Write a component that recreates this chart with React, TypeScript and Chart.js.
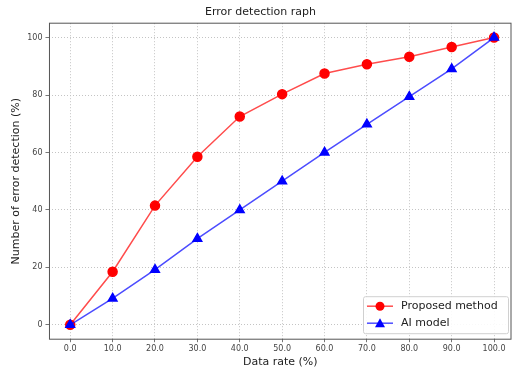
import React, { useEffect, useRef } from "react";
import { Chart, registerables } from "chart.js";

Chart.register(...registerables);

const dataRate = [0, 10, 20, 30, 40, 50, 60, 70, 80, 90, 100];
const proposedMethod = [0, 18.5, 41.5, 58.5, 72.5, 80.3, 87.5, 90.7, 93.3, 96.7, 100];
const aiModel = [0, 9.2, 19.2, 30, 40, 50, 60, 69.8, 79.4, 89.1, 100];
const xTicks = [0, 10, 20, 30, 40, 50, 60, 70, 80, 90, 100];
const yTicks = [0, 20, 40, 60, 80, 100];
const seriesNames = ["Proposed method", "AI model"];

const FONT = "'DejaVu Sans', sans-serif";

const framePlugin = {
  id: "frame",
  afterDatasetsDraw(chart: any) {
    const { ctx, chartArea } = chart;
    ctx.save();
    ctx.strokeStyle = "#555";
    ctx.lineWidth = 1;
    ctx.strokeRect(chartArea.left, chartArea.top, chartArea.right - chartArea.left, chartArea.bottom - chartArea.top);
    ctx.restore();
  },
};

const legendPlugin = {
  id: "insideLegend",
  afterDraw(chart: any) {
    const { ctx, chartArea } = chart;
    const w = 145;
    const h = 37;
    const x = chartArea.right - w - 3;
    const y = chartArea.bottom - h - 6;
    ctx.save();
    ctx.fillStyle = "rgba(255,255,255,0.9)";
    ctx.strokeStyle = "#d0d0d0";
    ctx.lineWidth = 1;
    ctx.beginPath();
    if (ctx.roundRect) ctx.roundRect(x + 0.5, y + 0.5, w, h, 2);
    else ctx.rect(x + 0.5, y + 0.5, w, h);
    ctx.fill();
    ctx.stroke();
    const items = [
      { name: seriesNames[0], line: "rgba(255,0,0,0.7)", fill: "#ff0000", shape: "circle" },
      { name: seriesNames[1], line: "rgba(0,0,255,0.7)", fill: "#0000ff", shape: "triangle" },
    ];
    items.forEach((it, i) => {
      const cy = y + 10 + i * 17;
      const lx = x + 4;
      ctx.strokeStyle = it.line;
      ctx.lineWidth = 1.5;
      ctx.beginPath();
      ctx.moveTo(lx, cy);
      ctx.lineTo(lx + 26, cy);
      ctx.stroke();
      ctx.fillStyle = it.fill;
      ctx.beginPath();
      if (it.shape === "circle") {
        ctx.arc(lx + 13, cy, 4.5, 0, Math.PI * 2);
      } else {
        ctx.moveTo(lx + 13, cy - 5);
        ctx.lineTo(lx + 18, cy + 4);
        ctx.lineTo(lx + 8, cy + 4);
        ctx.closePath();
      }
      ctx.fill();
      ctx.fillStyle = "#222";
      ctx.font = `11px ${FONT}`;
      ctx.textBaseline = "middle";
      ctx.textAlign = "left";
      ctx.fillText(it.name, lx + 34, cy);
    });
    ctx.restore();
  },
};

export default function App() {
  const ref = useRef<HTMLCanvasElement>(null);
  useEffect(() => {
    if (!ref.current) return;
    const chart = new Chart(ref.current, {
      type: "line",
      data: {
        datasets: [
          {
            label: seriesNames[0],
            data: dataRate.map((x, i) => ({ x, y: proposedMethod[i] })),
            borderColor: "rgba(255,0,0,0.7)",
            backgroundColor: "#ff0000",
            pointBackgroundColor: "#ff0000",
            pointBorderColor: "#ff0000",
            pointStyle: "circle",
            pointRadius: 4.5,
            borderWidth: 1.5,
            order: 2,
          },
          {
            label: seriesNames[1],
            data: dataRate.map((x, i) => ({ x, y: aiModel[i] })),
            borderColor: "rgba(0,0,255,0.7)",
            backgroundColor: "#0000ff",
            pointBackgroundColor: "#0000ff",
            pointBorderColor: "#0000ff",
            pointStyle: "triangle",
            pointRadius: 5,
            borderWidth: 1.5,
            order: 1,
          },
        ],
      },
      options: {
        responsive: false,
        animation: false,
        events: [],
        layout: { padding: { left: 10, right: 10, top: 4, bottom: 0 } },
        plugins: {
          legend: { display: false },
          tooltip: { enabled: false },
          title: {
            display: true,
            text: "Error detection raph",
            color: "#222",
            font: { family: FONT, size: 11, weight: "normal" },
            padding: { top: 2, bottom: 4 },
          },
        },
        scales: {
          x: {
            type: "linear",
            min: -4.9,
            max: 104,
            afterBuildTicks: (axis: any) => {
              axis.ticks = xTicks.map((v) => ({ value: v }));
            },
            ticks: {
              color: "#444",
              font: { family: FONT, size: 8 },
              padding: 2,
              maxRotation: 0,
              callback: (v: any) => Number(v).toFixed(1),
            },
            grid: { color: "#c4c4c4", tickLength: 3, tickColor: "#777", tickBorderDash: [] } as any,
            border: { display: false, dash: [1, 2] },
            title: {
              display: true,
              text: "Data rate (%)",
              color: "#222",
              font: { family: FONT, size: 11 },
              padding: { top: 0, bottom: 0 },
            },
          },
          y: {
            type: "linear",
            min: -5,
            max: 105,
            afterBuildTicks: (axis: any) => {
              axis.ticks = yTicks.map((v) => ({ value: v }));
            },
            ticks: {
              color: "#444",
              font: { family: FONT, size: 8 },
              padding: 3,
              callback: (v: any) => String(v),
            },
            grid: { color: "#c4c4c4", tickLength: 4, tickColor: "#777", tickBorderDash: [] } as any,
            border: { display: false, dash: [1, 2] },
            title: {
              display: true,
              text: "Number of error detection (%)",
              color: "#222",
              font: { family: FONT, size: 11 },
              padding: { top: 0, bottom: 1 },
            },
          },
        },
      },
      plugins: [framePlugin, legendPlugin],
    } as any);
    return () => chart.destroy();
  }, []);
  return (
    <div style={{ position: "fixed", left: 0, top: 0, width: 521, height: 369, background: "#fff" }}>
      <canvas ref={ref} width={521} height={369} />
    </div>
  );
}
